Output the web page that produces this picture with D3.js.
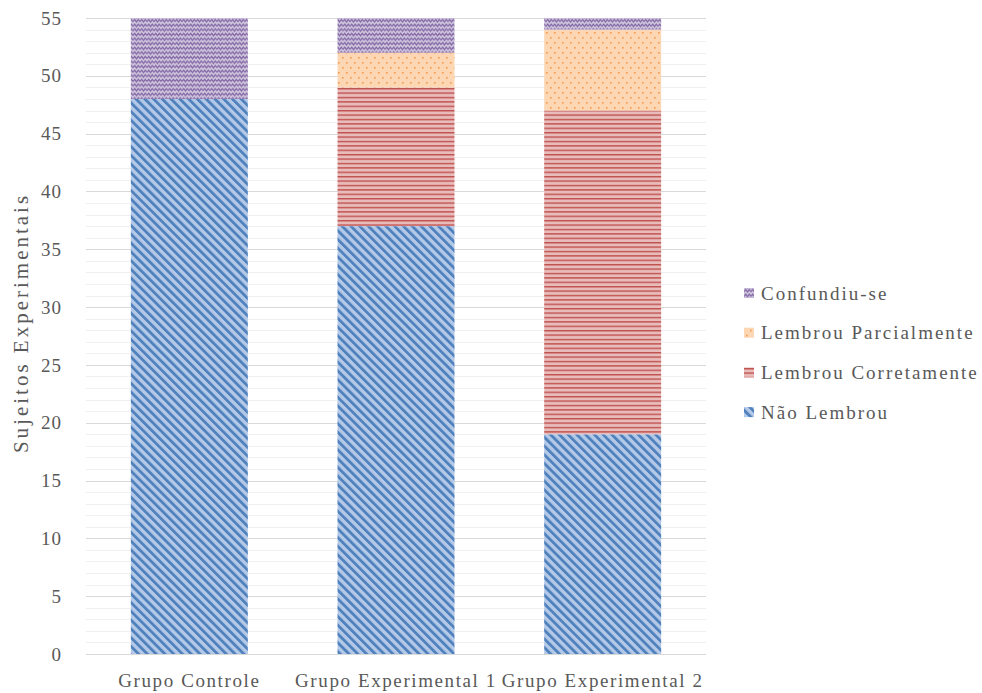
<!DOCTYPE html>
<html>
<head>
<meta charset="utf-8">
<script src="https://cdn.jsdelivr.net/npm/d3@7"></script>
<style>
  html, body { margin: 0; padding: 0; background: #fff; }
  svg text { font-family: "Liberation Serif", "Times New Roman", Times, "DejaVu Serif", serif; fill: #595959; }
</style>
</head>
<body>
<svg id="chart" width="982" height="693"></svg>
<script>
// Groups on the x axis
const categories = ["Grupo Controle", "Grupo Experimental 1", "Grupo Experimental 2"];
// Stacked series, bottom to top
const seriesNames = ["Não Lembrou", "Lembrou Corretamente", "Lembrou Parcialmente", "Confundiu-se"];
const naoLembrou = [48, 37, 19];
const lembrouCorretamente = [0, 12, 28];
const lembrouParcialmente = [0, 3, 7];
const confundiuSe = [7, 3, 1];
const yTicks = [0, 5, 10, 15, 20, 25, 30, 35, 40, 45, 50, 55];

const rows = categories.map((c, i) => ({
  cat: c,
  "Não Lembrou": naoLembrou[i],
  "Lembrou Corretamente": lembrouCorretamente[i],
  "Lembrou Parcialmente": lembrouParcialmente[i],
  "Confundiu-se": confundiuSe[i]
}));

const svg = d3.select("#chart");
const margin = { left: 86, right: 276, top: 18, bottom: 39 };
const W = 982, H = 693;

const x = d3.scaleBand().domain(categories)
  .range([margin.left, W - margin.right]).paddingInner(0.434).paddingOuter(0.217);
const y = d3.scaleLinear().domain([0, 55]).range([H - margin.bottom, margin.top]);

// Fill patterns
const defs = svg.append("defs");

const pBlue = defs.append("pattern").attr("id", "p-nao").attr("patternUnits", "userSpaceOnUse")
  .attr("width", 6.2).attr("height", 6.2).attr("patternTransform", "rotate(-45)");
pBlue.append("rect").attr("width", 6.2).attr("height", 6.2).attr("fill", "#b4c9e7");
pBlue.append("rect").attr("width", 2.8).attr("height", 6.2).attr("fill", "#4f81bd");

const pRed = defs.append("pattern").attr("id", "p-corr").attr("patternUnits", "userSpaceOnUse")
  .attr("width", 8).attr("height", 4.4);
pRed.append("rect").attr("width", 8).attr("height", 4.4).attr("fill", "#e8bcbb");
pRed.append("rect").attr("y", 0).attr("width", 8).attr("height", 1.4).attr("fill", "#c0504d");

const pOrange = defs.append("pattern").attr("id", "p-parc").attr("patternUnits", "userSpaceOnUse")
  .attr("width", 8).attr("height", 10);
pOrange.append("rect").attr("width", 8).attr("height", 10).attr("fill", "#fdd6b3");
pOrange.append("rect").attr("x", 2).attr("y", 2).attr("width", 1.6).attr("height", 1.6).attr("fill", "#f59a4c");
pOrange.append("rect").attr("x", 6).attr("y", 7).attr("width", 1.6).attr("height", 1.6).attr("fill", "#f59a4c");

const pPurple = defs.append("pattern").attr("id", "p-conf").attr("patternUnits", "userSpaceOnUse")
  .attr("width", 7).attr("height", 4.6);
pPurple.append("rect").attr("width", 7).attr("height", 4.6).attr("fill", "#cdc2dc");
pPurple.append("path").attr("d", "M-0.5,3.6 L1.75,1.2 L3.5,3.6 L5.25,1.2 L7.5,3.6")
  .attr("fill", "none").attr("stroke", "#8064a2").attr("stroke-width", 1.1);

const fills = {
  "Não Lembrou": "url(#p-nao)",
  "Lembrou Corretamente": "url(#p-corr)",
  "Lembrou Parcialmente": "url(#p-parc)",
  "Confundiu-se": "url(#p-conf)"
};

// Gridlines: minor every unit, major every 5
const grid = svg.append("g");
grid.selectAll("line.minor").data(d3.range(1, 56).filter(v => v % 5 !== 0)).join("line")
  .attr("x1", margin.left).attr("x2", W - margin.right)
  .attr("y1", d => Math.round(y(d)) + 0.5).attr("y2", d => Math.round(y(d)) + 0.5)
  .attr("stroke", "#f0f0f0").attr("stroke-width", 1);
grid.selectAll("line.major").data(yTicks.filter(v => v > 0)).join("line")
  .attr("x1", margin.left).attr("x2", W - margin.right)
  .attr("y1", d => Math.round(y(d)) + 0.5).attr("y2", d => Math.round(y(d)) + 0.5)
  .attr("stroke", "#d9d9d9").attr("stroke-width", 1);

// Stacked bars
const stack = d3.stack().keys(seriesNames)(rows);
svg.append("g").selectAll("g").data(stack).join("g")
  .attr("fill", d => fills[d.key])
  .selectAll("rect").data(d => d.filter(s => s[1] - s[0] > 0)).join("rect")
  .attr("x", d => x(d.data.cat))
  .attr("width", x.bandwidth())
  .attr("y", d => y(d[1]))
  .attr("height", d => y(d[0]) - y(d[1]));

// Baseline
svg.append("line")
  .attr("x1", margin.left).attr("x2", W - margin.right)
  .attr("y1", Math.round(y(0)) + 0.5).attr("y2", Math.round(y(0)) + 0.5)
  .attr("stroke", "#d9d9d9");

// Y axis
const yAxis = svg.append("g").attr("transform", `translate(${margin.left},0)`)
  .call(d3.axisLeft(y).tickValues(yTicks).tickSize(0).tickPadding(24));
yAxis.attr("font-family", null);
yAxis.select(".domain").remove();
yAxis.selectAll("text").attr("font-size", 19).attr("fill", "#595959").attr("letter-spacing", 1);

// X axis
const xAxis = svg.append("g").attr("transform", `translate(0,${y(0)})`)
  .call(d3.axisBottom(x).tickSize(0).tickPadding(20));
xAxis.attr("font-family", null);
xAxis.select(".domain").remove();
xAxis.selectAll("text").attr("font-size", 19).attr("fill", "#595959").attr("letter-spacing", 1.6);

// Y axis title
svg.append("text")
  .attr("transform", `translate(28,${(y(0) + y(55)) / 2 - 13}) rotate(-90)`)
  .attr("text-anchor", "middle")
  .attr("font-size", 21)
  .attr("letter-spacing", 3)
  .text("Sujeitos Experimentais");

// Legend, top to bottom in reverse stack order
const legendItems = seriesNames.slice().reverse();
const legend = svg.append("g").attr("transform", "translate(744,293)");
const li = legend.selectAll("g").data(legendItems).join("g")
  .attr("transform", (d, i) => `translate(0,${i * 39.7})`);
li.append("rect").attr("x", 0).attr("y", -5).attr("width", 10).attr("height", 10)
  .attr("fill", d => fills[d]);
li.append("text").attr("x", 17).attr("y", 0).attr("dy", "0.35em")
  .attr("font-size", 19).attr("letter-spacing", 2)
  .text(d => d);
</script>
</body>
</html>
